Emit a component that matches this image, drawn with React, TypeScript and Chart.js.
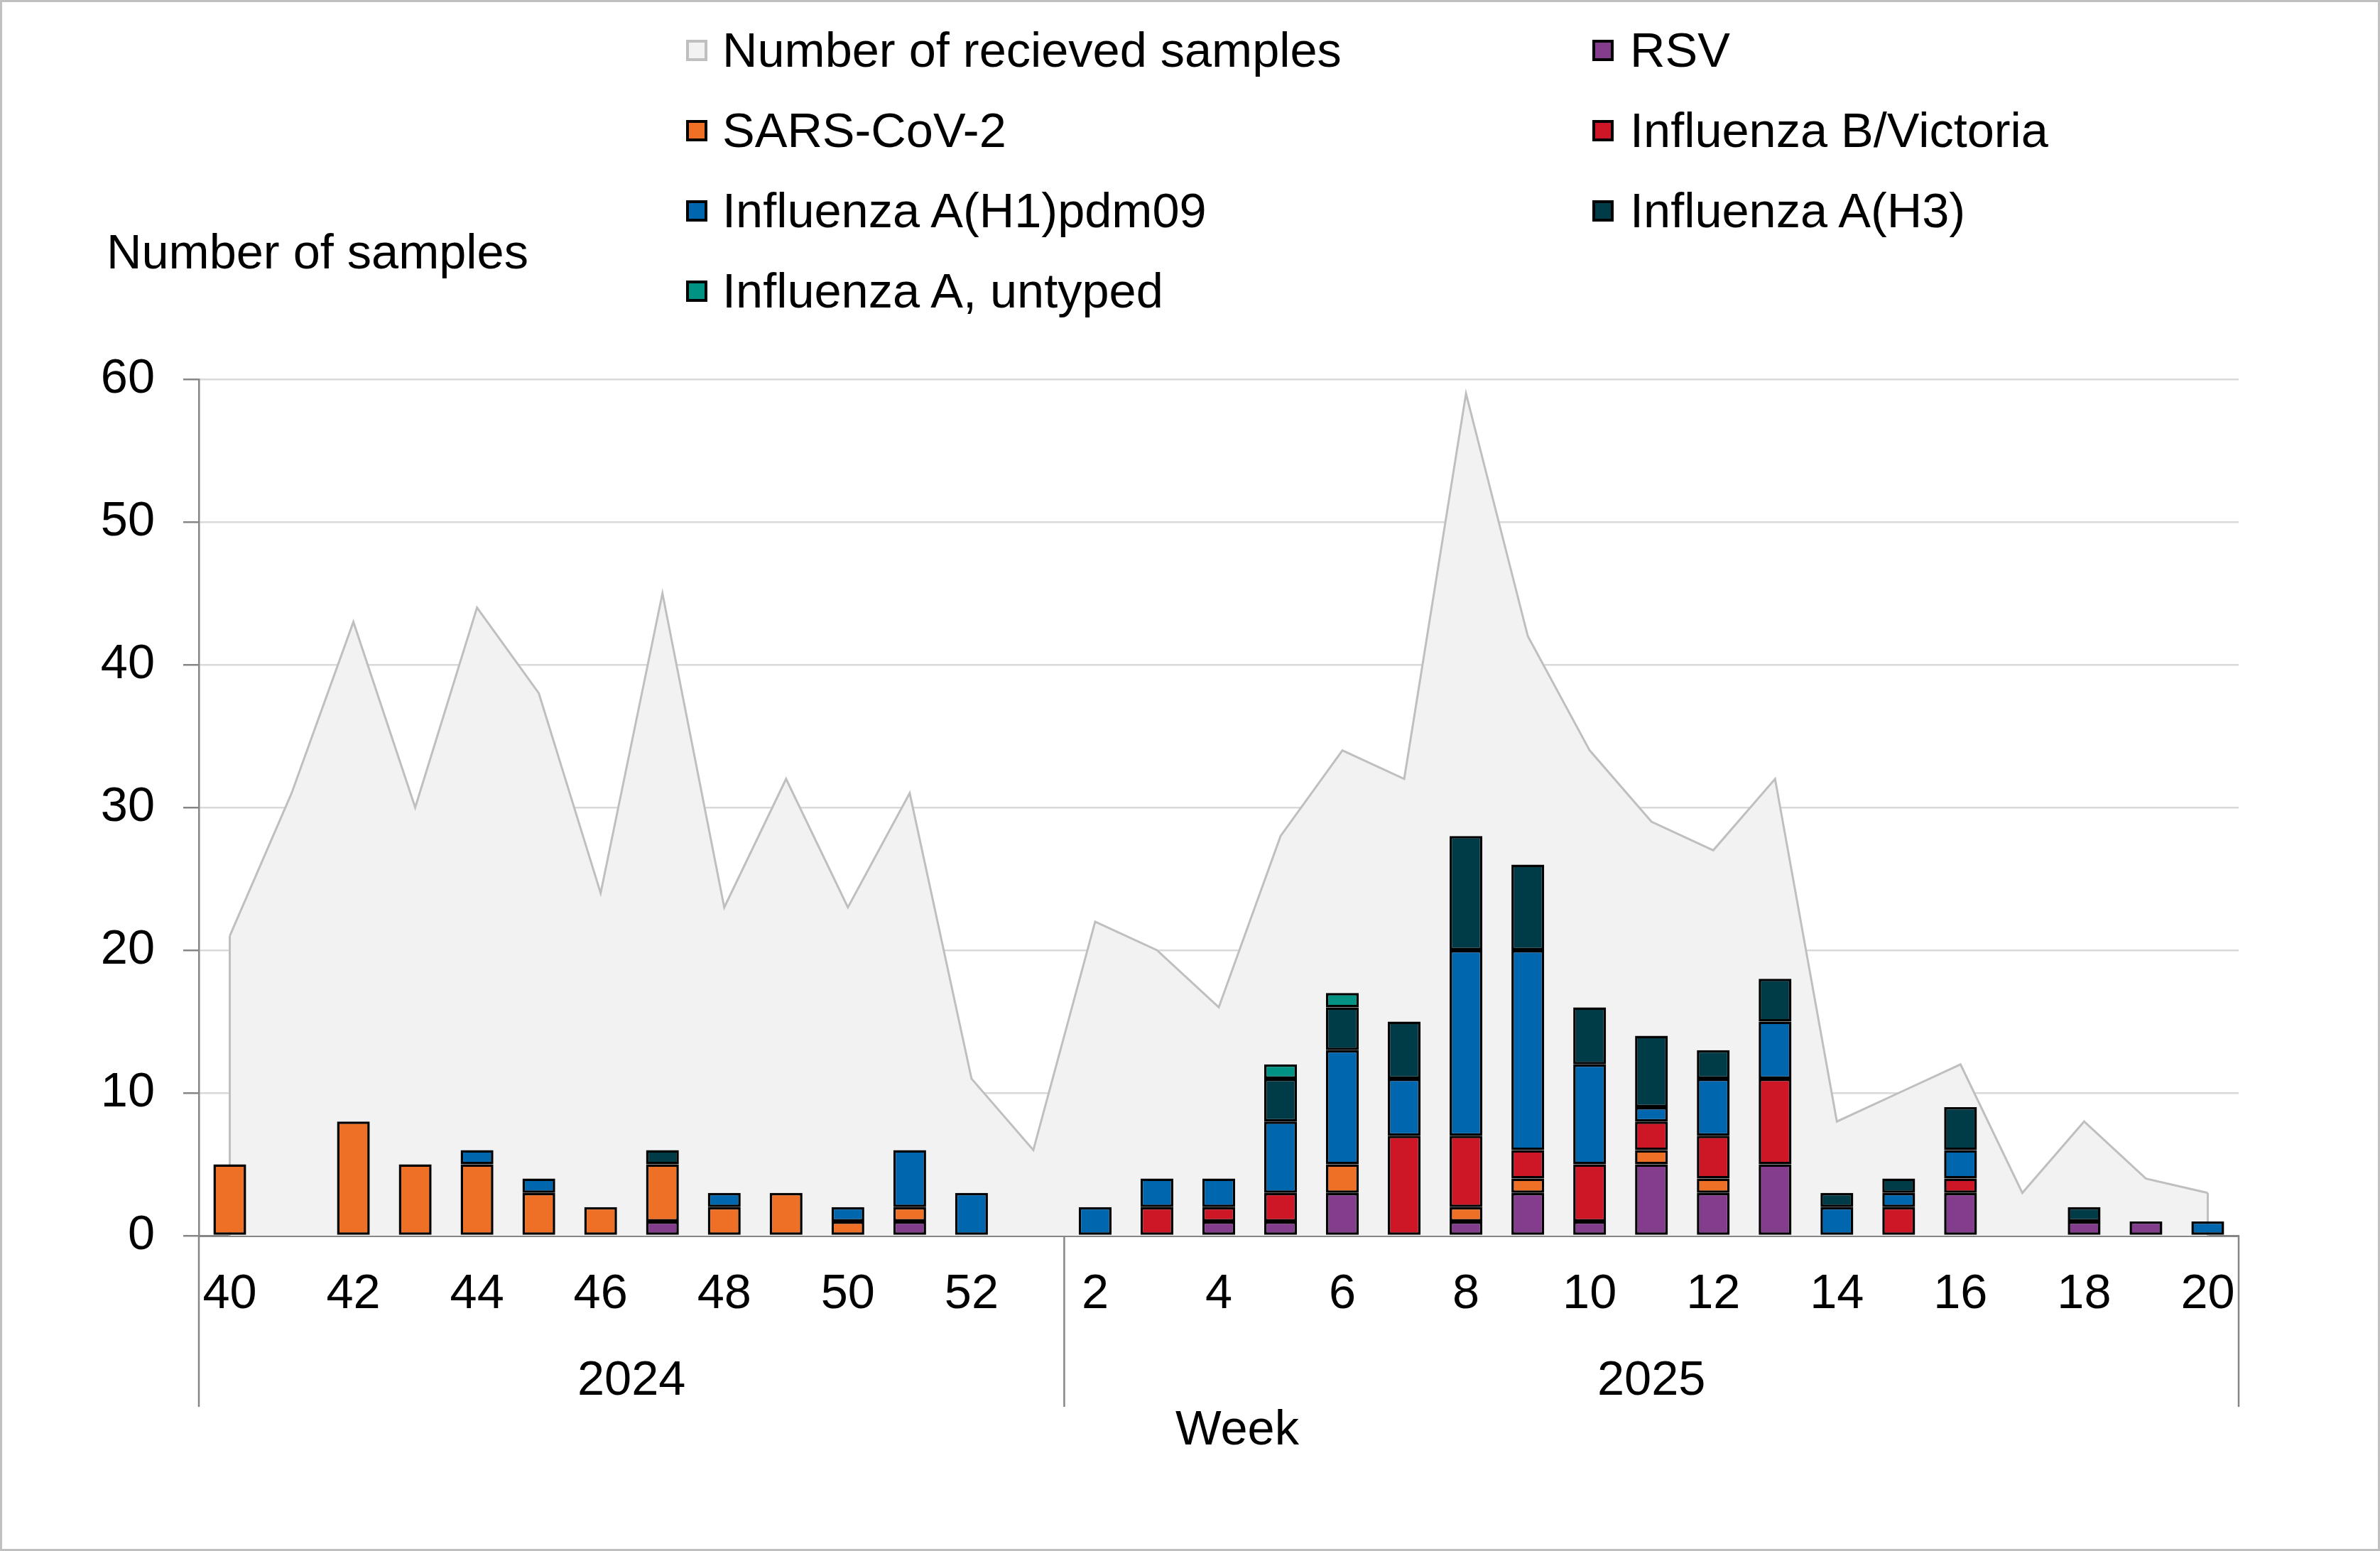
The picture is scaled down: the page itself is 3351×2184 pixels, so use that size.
import { useEffect, useRef } from 'react'
import { Chart, registerables } from 'chart.js'

Chart.register(...registerables)

const FONT = '"Liberation Sans", Arial, sans-serif'

// ── Data ────────────────────────────────────────────────────────────────────
const weeks = [
  '40', '41', '42', '43', '44', '45', '46', '47', '48', '49', '50', '51', '52', '1',
  '2', '3', '4', '5', '6', '7', '8', '9', '10', '11', '12', '13', '14', '15', '16', '17', '18', '19', '20',
]
const years = ['2024', '2025']
const weeksPerYear = [14, 19]
const yTicks = [0, 10, 20, 30, 40, 50, 60]

const received = [21, 31, 43, 30, 44, 38, 24, 45, 23, 32, 23, 31, 11, 6, 22, 20, 16, 28, 34, 32, 59, 42, 34, 29, 27, 32, 8, 10, 12, 3, 8, 4, 3]
const rsv      = [0, 0, 0, 0, 0, 0, 0, 1, 0, 0, 0, 1, 0, 0, 0, 0, 1, 1, 3, 0, 1, 3, 1, 5, 3, 5, 0, 0, 3, 0, 1, 1, 0]
const sarsCov2 = [5, 0, 8, 5, 5, 3, 2, 4, 2, 3, 1, 1, 0, 0, 0, 0, 0, 0, 2, 0, 1, 1, 0, 1, 1, 0, 0, 0, 0, 0, 0, 0, 0]
const bVictoria = [0, 0, 0, 0, 0, 0, 0, 0, 0, 0, 0, 0, 0, 0, 0, 2, 1, 2, 0, 7, 5, 2, 4, 2, 3, 6, 0, 2, 1, 0, 0, 0, 0]
const aH1      = [0, 0, 0, 0, 1, 1, 0, 0, 1, 0, 1, 4, 3, 0, 2, 2, 2, 5, 8, 4, 13, 14, 7, 1, 4, 4, 2, 1, 2, 0, 0, 0, 1]
const aH3      = [0, 0, 0, 0, 0, 0, 0, 1, 0, 0, 0, 0, 0, 0, 0, 0, 0, 3, 3, 4, 8, 6, 4, 5, 2, 3, 1, 1, 3, 0, 1, 0, 0]
const aUntyped = [0, 0, 0, 0, 0, 0, 0, 0, 0, 0, 0, 0, 0, 0, 0, 0, 0, 1, 1, 0, 0, 0, 0, 0, 0, 0, 0, 0, 0, 0, 0, 0, 0]

const barSeries = [
  { label: 'RSV',                  data: rsv,       color: '#843C8C' },
  { label: 'SARS-CoV-2',           data: sarsCov2,  color: '#EE7027' },
  { label: 'Influenza B/Victoria', data: bVictoria, color: '#CD1626' },
  { label: 'Influenza A(H1)pdm09', data: aH1,       color: '#0066AE' },
  { label: 'Influenza A(H3)',      data: aH3,       color: '#003C48' },
  { label: 'Influenza A, untyped', data: aUntyped,  color: '#009384' },
]

// legend order as it reads in two columns
const legendItems = [
  { label: 'Number of recieved samples', fill: '#F2F2F2', border: '#BFBFBF' },
  { label: 'RSV', fill: '#843C8C', border: '#000' },
  { label: 'SARS-CoV-2', fill: '#EE7027', border: '#000' },
  { label: 'Influenza B/Victoria', fill: '#CD1626', border: '#000' },
  { label: 'Influenza A(H1)pdm09', fill: '#0066AE', border: '#000' },
  { label: 'Influenza A(H3)', fill: '#003C48', border: '#000' },
  { label: 'Influenza A, untyped', fill: '#009384', border: '#000' },
]

const TEXT_PX = 68.5

export default function App() {
  const canvasRef = useRef<HTMLCanvasElement>(null)
  const chartRef = useRef<Chart | null>(null)

  useEffect(() => {
    if (!canvasRef.current) return
    const ctx = canvasRef.current.getContext('2d')
    if (!ctx) return

    // ── vertical ends of the area, like the spreadsheet outline ──
    const areaEdges = {
      id: 'areaEdges',
      afterDatasetDraw(chart: any, args: any) {
        if (args.index !== 0) return
        const pts = args.meta.data
        if (!pts.length) return
        const y0 = chart.scales.y.getPixelForValue(0)
        const c = chart.ctx
        c.save()
        c.strokeStyle = '#BFBFBF'
        c.lineWidth = 3
        ;[pts[0], pts[pts.length - 1]].forEach((p: any) => {
          c.beginPath()
          c.moveTo(p.x, p.y)
          c.lineTo(p.x, y0)
          c.stroke()
        })
        c.restore()
      },
    }

    // ── year groups under the week labels ──
    const yearGroups = {
      id: 'yearGroups',
      afterDraw(chart: any) {
        const { ctx: c, chartArea, scales } = chart
        const x = scales.x
        const half = (x.getPixelForValue(1) - x.getPixelForValue(0)) / 2
        c.save()
        c.strokeStyle = '#868686'
        c.lineWidth = 2.5
        c.fillStyle = '#000'
        c.font = `${TEXT_PX}px ${FONT}`
        c.textAlign = 'center'
        c.textBaseline = 'middle'
        let start = 0
        const edges: number[] = [x.getPixelForValue(0) - half]
        years.forEach((yr, i) => {
          const end = start + weeksPerYear[i] - 1
          const left = x.getPixelForValue(start) - half
          const right = x.getPixelForValue(end) + half
          edges.push(right)
          c.fillText(yr, (left + right) / 2, chartArea.bottom + 205)
          start = end + 1
        })
        edges.forEach(px => {
          c.beginPath()
          c.moveTo(px, chartArea.bottom)
          c.lineTo(px, chartArea.bottom + 241)
          c.stroke()
        })
        c.restore()
      },
    }

    const datasets: any[] = [
      {
        type: 'line',
        label: 'Number of recieved samples',
        data: received,
        stack: 'area',
        fill: 'origin',
        backgroundColor: '#F2F2F2',
        borderColor: '#BFBFBF',
        borderWidth: 3,
        pointRadius: 0,
        tension: 0,
        order: 10,
      },
      ...barSeries.map(s => ({
        type: 'bar',
        label: s.label,
        data: s.data.map(v => (v === 0 ? null : v)),
        stack: 'virus',
        backgroundColor: s.color,
        borderColor: '#000',
        borderWidth: 3.5,
        borderSkipped: false,
        barPercentage: 0.53,
        categoryPercentage: 1,
        order: 1,
      })),
    ]

    chartRef.current = new Chart(ctx, {
      type: 'bar',
      plugins: [areaEdges, yearGroups],
      data: { labels: weeks, datasets },
      options: {
        responsive: true,
        maintainAspectRatio: false,
        animation: false,
        layout: { padding: { top: 534, right: 199, left: 0, bottom: 0 } },
        plugins: {
          legend: { display: false },
          tooltip: { enabled: false },
        },
        scales: {
          x: {
            stacked: true,
            grid: { display: false, drawTicks: false },
            border: { color: '#868686', width: 3 },
            ticks: {
              autoSkip: false,
              maxRotation: 0,
              padding: 42,
              color: '#000',
              font: { size: TEXT_PX, family: FONT },
              callback: (_v: any, i: number) => (i % 2 === 0 ? weeks[i] : ''),
            },
            afterFit: (s: any) => { s.height = 444 },
          },
          y: {
            stacked: true,
            min: yTicks[0],
            max: yTicks[yTicks.length - 1],
            ticks: {
              stepSize: yTicks[1] - yTicks[0],
              padding: 40,
              color: '#000',
              font: { size: TEXT_PX, family: FONT },
            },
            grid: { color: '#D9D9D9', lineWidth: 2.5, tickLength: 22, tickColor: '#868686', tickWidth: 2.5 },
            border: { color: '#868686', width: 2.5 },
            afterFit: (s: any) => { s.width = 280 },
          },
        },
      },
    } as any)

    return () => { chartRef.current?.destroy(); chartRef.current = null }
  }, [])

  const rowY = [71, 184, 297, 410]
  const colBox = [966, 2242]
  const colText = [1017, 2295]

  return (
    <div style={{ position: 'fixed', inset: 0, background: '#fff', fontFamily: FONT, color: '#000' }}>
      <div style={{ position: 'absolute', inset: 0 }}>
        <canvas ref={canvasRef} role="img" aria-label="Number of samples per week" />
      </div>

      {legendItems.map((it, i) => {
        const col = i % 2
        const row = Math.floor(i / 2)
        return (
          <div key={it.label}>
            <div style={{
              position: 'absolute', left: colBox[col], top: rowY[row] - 15, width: 30, height: 30,
              boxSizing: 'border-box', background: it.fill, border: `4px solid ${it.border}`,
            }} />
            <div style={{
              position: 'absolute', left: colText[col], top: rowY[row], transform: 'translateY(-50%)',
              fontSize: TEXT_PX, lineHeight: 1, whiteSpace: 'nowrap',
            }}>{it.label}</div>
          </div>
        )
      })}

      <div style={{
        position: 'absolute', left: 150, top: 355, transform: 'translateY(-50%)',
        fontSize: TEXT_PX, lineHeight: 1, whiteSpace: 'nowrap',
      }}>Number of samples</div>

      <div style={{
        position: 'absolute', left: 1742, top: 2011, transform: 'translate(-50%, -50%)',
        fontSize: TEXT_PX, lineHeight: 1, whiteSpace: 'nowrap',
      }}>Week</div>

      <div style={{ position: 'absolute', inset: 0, border: '3px solid #C0C0C0', pointerEvents: 'none' }} />
    </div>
  )
}
